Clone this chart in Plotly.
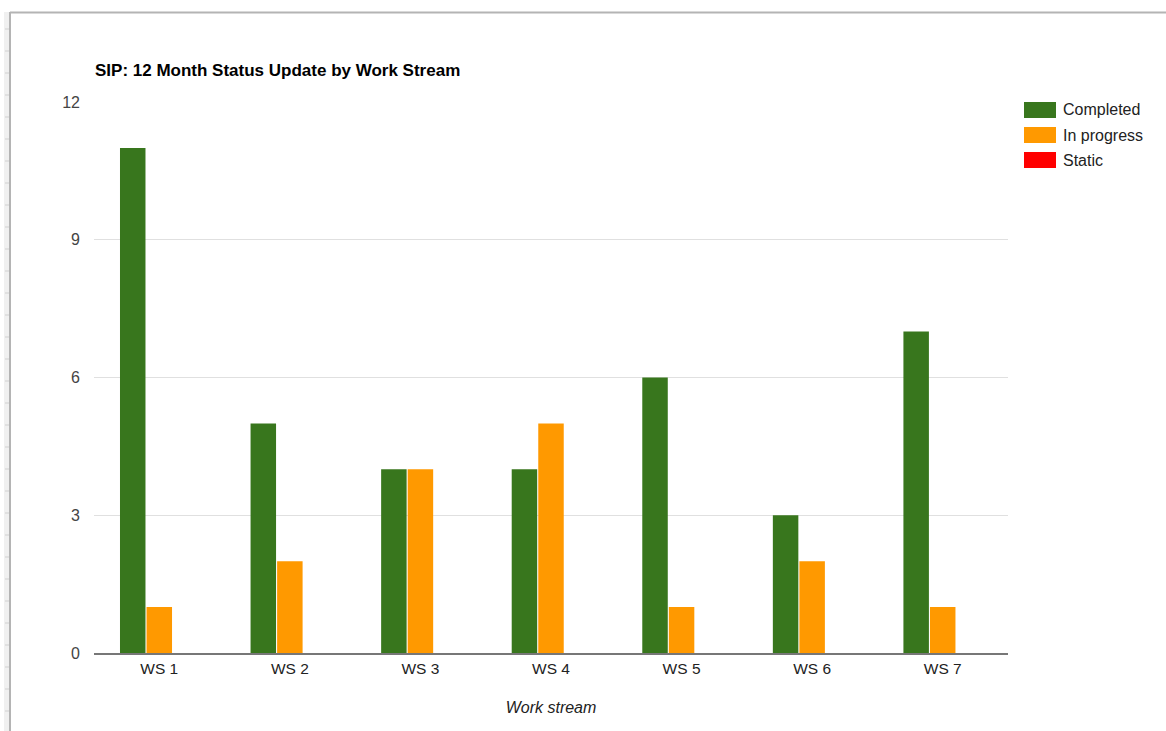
import plotly.graph_objects as go

categories = ["WS 1", "WS 2", "WS 3", "WS 4", "WS 5", "WS 6", "WS 7"]
completed = [11, 5, 4, 4, 6, 3, 7]
in_progress = [1, 2, 4, 5, 1, 2, 1]
static = [0, 0, 0, 0, 0, 0, 0]
series_names = ["Completed", "In progress", "Static"]
series_colors = ["#38761d", "#ff9900", "#ff0000"]
y_ticks = [0, 3, 6, 9, 12]

W, H = 1166, 731
L, R, T, B = 94, 158, 102, 78
pw, ph = W - L - R, H - T - B

def px(x):
    return (x - L) / pw

def py(y):
    return (H - B - y) / ph

FONT = "Liberation Sans, Arial, sans-serif"

fig = go.Figure()
for name, vals, col in zip(series_names, [completed, in_progress, static], series_colors):
    fig.add_trace(go.Bar(name=name, x=categories, y=vals, marker_color=col,
                         marker_line_width=0, showlegend=False))

shapes = []
annotations = []
# page frame: top border and left ruler
shapes.append(dict(type="rect", xref="paper", yref="paper", x0=px(4), x1=px(9), y0=py(H), y1=py(12),
                   fillcolor="#f0f0f0", line_width=0, layer="below"))
for yy in range(29, H, 22):
    shapes.append(dict(type="line", xref="paper", yref="paper", x0=px(5), x1=px(9), y0=py(yy), y1=py(yy),
                       line=dict(color="#d0d0d0", width=1)))
shapes.append(dict(type="line", xref="paper", yref="paper", x0=px(10), x1=px(10), y0=py(12), y1=py(H),
                   line=dict(color="#b4b4b4", width=2)))
shapes.append(dict(type="line", xref="paper", yref="paper", x0=px(10), x1=px(W), y0=py(12.5), y1=py(12.5),
                   line=dict(color="#b4b4b4", width=2)))

# legend (Google-charts style swatches)
for i, (name, col) in enumerate(zip(series_names, series_colors)):
    cy = 110 + 25 * i
    shapes.append(dict(type="rect", xref="paper", yref="paper", x0=px(1024), x1=px(1056),
                       y0=py(cy + 8), y1=py(cy - 8), fillcolor=col, line_width=0))
    annotations.append(dict(text=name, xref="paper", yref="paper", x=px(1061), y=py(cy),
                            xanchor="left", yanchor="middle", showarrow=False,
                            font=dict(family=FONT, size=16, color="#222222")))

fig.update_layout(
    width=W, height=H,
    margin=dict(l=L, r=R, t=T, b=B, pad=0),
    paper_bgcolor="white", plot_bgcolor="white",
    barmode="group", bargap=0.39, bargroupgap=0.04,
    font=dict(family=FONT, size=15.5, color="#444444"),
    title=dict(text="<b>SIP: 12 Month Status Update by Work Stream</b>", x=px(95), xanchor="left",
               xref="paper", y=1 - 70 / H, yanchor="middle",
               font=dict(family=FONT, size=17, color="#000000")),
    xaxis=dict(showgrid=False, showline=True, linecolor="#777777", linewidth=2,
               ticks="", tickfont=dict(size=15.5, color="#222222"),
               title=dict(text="<i>Work stream</i>", font=dict(size=16, color="#222222"), standoff=26)),
    yaxis=dict(range=[0, 12], tickvals=y_ticks, showgrid=True, gridcolor="#e0e0e0", gridwidth=1,
               zeroline=False, ticks="", ticklabelstandoff=13,
               tickfont=dict(size=16, color="#444444")),
    showlegend=False,
    shapes=shapes,
    annotations=annotations,
)

fig.write_html("out.html")
